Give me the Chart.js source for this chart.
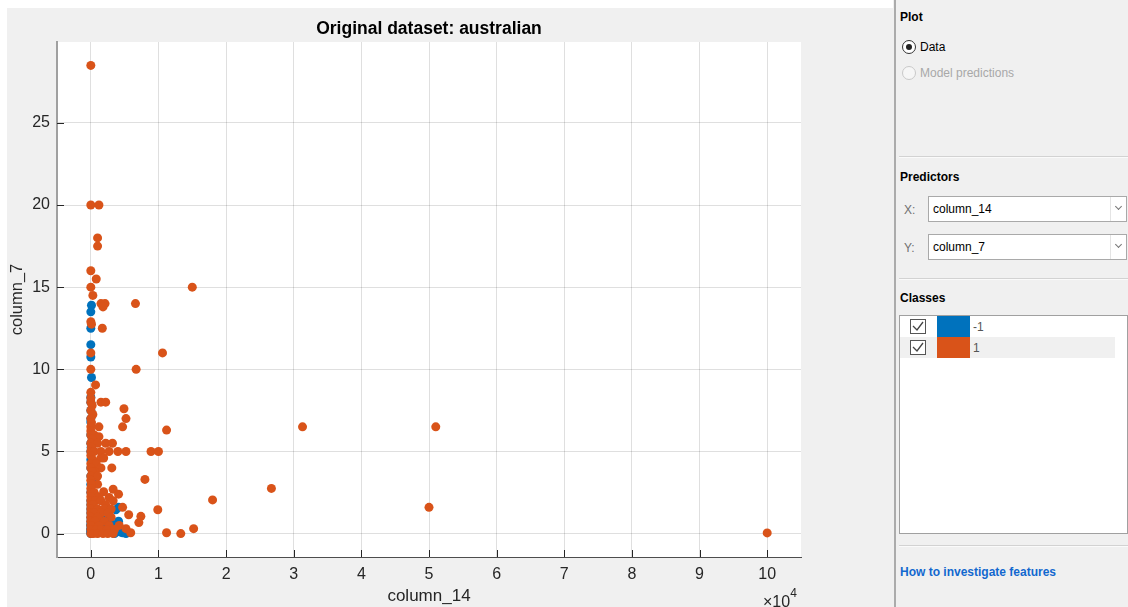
<!DOCTYPE html>
<html>
<head>
<meta charset="utf-8">
<script src="https://cdn.jsdelivr.net/npm/chart.js@4.4.1/dist/chart.umd.min.js"></script>
<style>
  body { margin: 0; width: 1128px; height: 607px; background: #f0f0f0; position: relative; overflow: hidden;
         font-family: "Liberation Sans", Arial, sans-serif; font-size: 12px; color: #000; }
  .abs { position: absolute; }
  #fig { left: 0; top: 0; }
  .white-top { left: 0; top: 0; width: 893px; height: 8px; background: #fff; }
  .white-left { left: 0; top: 0; width: 7px; height: 607px; background: #fff; }
  .vline { left: 894px; top: 0; width: 2px; height: 607px; background: #ababab; }
  .hdr { font-weight: bold; line-height: 14px; }
  .sep { left: 899px; width: 229px; height: 0; border-top: 1px solid #d2d2d2; border-bottom: 1px solid #fafafa; }
  .radio { width: 12px; height: 12px; border-radius: 50%; background: #fff; border: 1px solid #333; }
  .radio.on::after { content: ""; position: absolute; left: 3px; top: 3px; width: 6px; height: 6px; border-radius: 50%; background: #222; }
  .radio.off { border-color: #c9c9c9; background: #f6f6f6; }
  .lbl { line-height: 14px; }
  .drop { left: 928px; width: 197px; height: 24px; background: #fff; border: 1px solid #a9a9a9; }
  .drop span { position: absolute; left: 4px; top: 5px; line-height: 14px; }
  .drop i { position: absolute; left: 181px; top: 0; width: 1px; height: 24px; background: #e4e4e4; }
  .drop b { position: absolute; left: 187px; top: 7px; width: 4px; height: 4px; border-right: 1.5px solid #777; border-bottom: 1.5px solid #777; transform: rotate(45deg); }
  .list { left: 899px; top: 315px; width: 227px; height: 217px; background: #fff; border: 1px solid #a0a0a0; }
  .row { left: 0; width: 215px; height: 21px; }
  .chk { left: 10px; top: 3px; width: 14px; height: 13px; border: 1px solid #555; background: #fff; }
  .sw { left: 37px; top: 0; width: 33px; height: 21px; }
  .rtxt { left: 73px; top: 4px; color: #555; line-height: 14px; }
  .link { left: 900px; top: 565px; color: #1268cf; font-weight: bold; line-height: 14px; }
</style>
</head>
<body>
<div class="abs white-top"></div>
<div class="abs white-left"></div>
<canvas id="fig" class="abs" width="893" height="607"></canvas>

<div class="abs vline"></div>
<div class="abs hdr" style="left:900px; top:10px;">Plot</div>
<div class="abs radio on" style="left:902px; top:40px;"></div>
<div class="abs lbl" style="left:920px; top:40px;">Data</div>
<div class="abs radio off" style="left:902px; top:66px;"></div>
<div class="abs lbl" style="left:920px; top:66px; color:#a8a8a8;">Model predictions</div>
<div class="abs sep" style="top:156px;"></div>

<div class="abs hdr" style="left:900px; top:170px;">Predictors</div>
<div class="abs lbl" style="left:904px; top:203px; color:#707070;">X:</div>
<div class="abs drop" style="top:196px;"><span>column_14</span><i></i><b></b></div>
<div class="abs lbl" style="left:904px; top:241px; color:#707070;">Y:</div>
<div class="abs drop" style="top:234px;"><span>column_7</span><i></i><b></b></div>
<div class="abs sep" style="top:278px;"></div>

<div class="abs hdr" style="left:900px; top:291px;">Classes</div>
<div class="abs list" id="classList"></div>
<div class="abs sep" style="top:545px;"></div>
<div class="abs link">How to investigate features</div>

<script>
// class names and colours
const classNames = ["-1", "1"];
const classColors = ["#0072BD", "#D95319"];

// axis ticks (x in units of 10^4)
const xTickValues = [0, 1, 2, 3, 4, 5, 6, 7, 8, 9, 10];
const yTickValues = [0, 5, 10, 15, 20, 25];

// class -1 points [column_14, column_7]
const negPoints = [
  [100, 13.9], [0, 13.5], [0, 12.5], [0, 11.5], [0, 10.75], [100, 9.5], [0, 8.3], [0, 6.8],
  [4100, 1.6], [3700, 1.45], [4100, 0.75], [2200, 0.85], [2200, 0.45], [4400, 0.1], [4000, 0.25],
  [4700, 0.05], [5200, 0], [3500, 0],
  [0, 0], [0, 0.04], [0, 0.125], [0, 0.25], [0, 0.29], [0, 0.5], [0, 0.54], [0, 0.75], [0, 1],
  [0, 1.25], [0, 1.5], [0, 1.75], [0, 2], [0, 2.5], [0, 3], [0, 3.5], [0, 4], [0, 4.5], [0, 5],
  [0, 5.5], [0, 6], [0, 7], [0, 7.5], [0, 8], [100, 0.2], [200, 0.5], [300, 1], [500, 0.1],
  [800, 0.3], [1000, 0.04], [1200, 0.6], [1500, 0.1], [2000, 0.2], [2500, 0.4], [3000, 0.6],
  [100, 2.25], [200, 3.25], [100, 4.25], [50, 5.25]
];

// class 1 points [column_14, column_7]
const posPoints = [
  [0, 28.5],
  [0, 20], [1200, 20],
  [1000, 18], [1000, 17.5],
  [0, 16], [800, 15.5],
  [0, 15], [15000, 15],
  [300, 14.5],
  [1500, 14], [2100, 14], [1800, 13.8], [6600, 14],
  [0, 12.9], [100, 12.75], [1700, 12.5],
  [0, 11], [10600, 11],
  [0, 10], [6700, 10],
  [700, 9.05], [0, 8.6], [0, 8], [1500, 8], [2200, 8], [0, 8.25], [200, 7.8],
  [4900, 7.6], [0, 7.5], [300, 7.25], [5200, 7.0], [0, 7], [100, 6.75],
  [4700, 6.5], [1200, 6.5], [0, 6.5], [11200, 6.3], [31300, 6.5], [51000, 6.5],
  [0, 6.25], [0, 6.0], [500, 6.0], [1200, 5.9], [200, 5.75], [0, 5.5], [2200, 5.5], [3200, 5.5], [1000, 5.5], [100, 5.25],
  [0, 5], [500, 5], [1500, 5], [2700, 5], [4000, 5], [5200, 5], [8900, 5], [10000, 5],
  [0, 4.75], [1500, 4.6], [1900, 4.6], [300, 4.5], [0, 4.25], [800, 4.25],
  [0, 4], [1500, 4], [3100, 4], [600, 3.75], [200, 3.75], [0, 3.5], [1000, 3.5],
  [8000, 3.3], [0, 3.25], [300, 3], [1000, 3], [100, 3.0], [0, 2.75], [3300, 2.7], [1900, 2.55], [4100, 2.4], [26700, 2.75],
  [0, 2.5], [500, 2.5], [2700, 2.2], [1200, 2.25], [0, 2.25], [18000, 2.05],
  [0, 2], [700, 2], [1500, 2], [0, 1.75], [300, 1.75], [2200, 1.75], [3300, 2.0],
  [4700, 1.6], [50000, 1.6], [9900, 1.45], [0, 1.5], [1000, 1.5], [2000, 1.5], [3000, 1.5],
  [0, 1.25], [500, 1.25], [1500, 1.25], [2500, 1.25], [5600, 1.15], [7400, 1.05], [0, 1], [1000, 1], [3000, 1],
  [7100, 0.67], [0, 0.75], [600, 0.75], [2000, 0.75], [0, 0.5], [1200, 0.5], [2700, 0.5], [4200, 0.5],
  [0, 0.25], [800, 0.25], [1600, 0.25], [2400, 0.25], [3500, 0.25], [5200, 0.3], [15200, 0.3],
  [0, 0], [400, 0], [1000, 0], [1800, 0], [2500, 0], [3300, 0], [5900, 0.05], [11200, 0.05], [13300, 0],
  [100000, 0.04]
];

// class list in the side panel
const list = document.getElementById("classList");
classNames.forEach((name, i) => {
  const row = document.createElement("div");
  row.className = "abs row";
  row.style.top = (i * 21) + "px";
  row.style.background = i % 2 ? "#f0f0f0" : "#fff";
  row.innerHTML =
    '<div class="abs chk"><svg width="14" height="13"><polyline points="2,6 6,10 12,2" fill="none" stroke="#444" stroke-width="1.3"/></svg></div>' +
    '<div class="abs sw" style="background:' + classColors[i] + '"></div>' +
    '<div class="abs rtxt">' + name + "</div>";
  list.appendChild(row);
});

const FONT = '"Liberation Sans", Arial, sans-serif';
const TXT = "#262626";

// white plot area
const areaBg = {
  id: "areaBg",
  beforeDraw(chart) {
    const { ctx, chartArea: a } = chart;
    ctx.save();
    ctx.fillStyle = "#fff";
    ctx.fillRect(a.left, a.top, a.right - a.left, a.bottom - a.top);
    ctx.restore();
  },
};

// inward ticks, title and exponent label
const decorations = {
  id: "decorations",
  afterDraw(chart) {
    const { ctx, chartArea: a, scales } = chart;
    ctx.save();
    ctx.strokeStyle = TXT;
    ctx.lineWidth = 1;
    ctx.beginPath();
    scales.y.ticks.forEach((t) => {
      const py = Math.round(scales.y.getPixelForValue(t.value)) + 0.5;
      ctx.moveTo(a.left, py);
      ctx.lineTo(a.left + 7, py);
    });
    scales.x.ticks.forEach((t) => {
      const px = Math.round(scales.x.getPixelForValue(t.value)) + 0.5;
      ctx.moveTo(px, a.bottom);
      ctx.lineTo(px, a.bottom - 7);
    });
    ctx.stroke();

    ctx.fillStyle = "#000";
    ctx.font = "bold 17.5px " + FONT;
    ctx.textAlign = "center";
    ctx.textBaseline = "middle";
    ctx.fillText("Original dataset: australian", (a.left + a.right) / 2, 29);

    ctx.fillStyle = TXT;
    ctx.textAlign = "left";
    ctx.font = "16px " + FONT;
    const base = "\u00d710";
    ctx.fillText(base, 763, 603);
    const w = ctx.measureText(base).width;
    ctx.font = "12px " + FONT;
    ctx.fillText("4", 763 + w, 594);
    ctx.restore();
  },
};

new Chart(document.getElementById("fig"), {
  type: "scatter",
  data: {
    datasets: [
      {
        label: classNames[0],
        data: negPoints.map((p) => ({ x: p[0], y: p[1] })),
        backgroundColor: classColors[0],
        borderWidth: 0,
        pointRadius: 4.5,
        order: 1,
      },
      {
        label: classNames[1],
        data: posPoints.map((p) => ({ x: p[0], y: p[1] })),
        backgroundColor: classColors[1],
        borderWidth: 0,
        pointRadius: 4.5,
        order: 0,
      },
    ],
  },
  options: {
    responsive: false,
    animation: false,
    events: [],
    layout: { padding: { left: 0, right: 92, top: 42, bottom: 0 } },
    plugins: { legend: { display: false }, tooltip: { enabled: false } },
    scales: {
      x: {
        type: "linear",
        position: "bottom",
        min: -5000,
        max: 105000,
        afterFit: (s) => { s.height = 50; },
        afterBuildTicks: (s) => { s.ticks = xTickValues.map((v) => ({ value: v * 10000 })); },
        ticks: {
          callback: (v) => v / 10000,
          padding: 8,
          color: TXT,
          font: { family: FONT, size: 16 },
          maxRotation: 0,
          autoSkip: false,
        },
        grid: { color: "rgba(38,38,38,0.15)", drawTicks: false },
        border: { display: true, color: "#4d4d4d", width: 1 },
        title: {
          display: true,
          text: "column_14",
          color: TXT,
          font: { family: FONT, size: 17 },
          padding: { top: 0, bottom: 0 },
        },
      },
      y: {
        type: "linear",
        position: "left",
        min: -1.425,
        max: 29.925,
        afterFit: (s) => { s.width = 57; },
        afterBuildTicks: (s) => { s.ticks = yTickValues.map((v) => ({ value: v })); },
        ticks: {
          padding: 7,
          color: TXT,
          font: { family: FONT, size: 16 },
        },
        grid: { color: "rgba(38,38,38,0.15)", drawTicks: false },
        border: { display: true, color: "#a0a0a0", width: 2 },
        title: {
          display: true,
          text: "column_7",
          color: TXT,
          font: { family: FONT, size: 16.5 },
          padding: { top: 8, bottom: 0 },
        },
      },
    },
  },
  plugins: [areaBg, decorations],
});
</script>
</body>
</html>
